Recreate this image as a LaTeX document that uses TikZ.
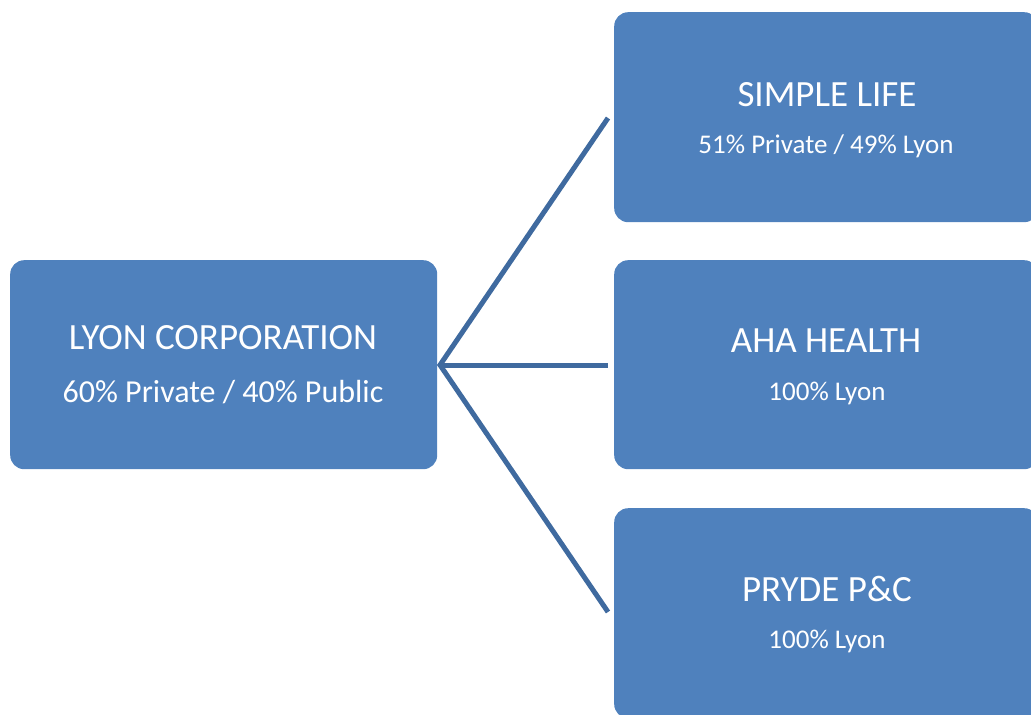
\documentclass[tikz,border=0pt]{standalone}
\usepackage{fontspec}
\setmainfont{Carlito}
\definecolor{boxblue}{HTML}{4F81BD}
\definecolor{lineblue}{HTML}{3F6A9F}
\begin{document}
\begin{tikzpicture}[x=1pt,y=-1pt,
  box/.style={fill=boxblue,draw=none,rounded corners=14pt,inner sep=0pt,anchor=north west},
  title/.style={text=white,font=\fontsize{37}{40}\selectfont,inner sep=0pt},
  sub/.style={text=white,font=\fontsize{32}{36}\selectfont,inner sep=0pt},
  rtitle/.style={text=white,font=\fontsize{37}{40}\selectfont,inner sep=0pt},
  rsub/.style={text=white,font=\fontsize{27}{30}\selectfont,inner sep=0pt},
  conn/.style={draw=lineblue,line width=5pt}]
\useasboundingbox (0,0) rectangle (1031,715);
\node[box,minimum width=427pt,minimum height=209pt] (lyon) at (10,260) {};
\node[box,minimum width=424pt,minimum height=210pt] (simple) at (614,12) {};
\node[box,minimum width=424pt,minimum height=209pt] (aha) at (614,260) {};
\node[box,minimum width=424pt,minimum height=210pt] (pryde) at (614,508) {};
\node[title] (lyonT) at (223,338) {LYON CORPORATION};
\node[sub] (lyonS) at (223,392) {60\% Private / 40\% Public};
\node[rtitle] (simpleT) at (827,95) {SIMPLE LIFE};
\node[rsub] (simpleS) at (826,146) {51\% Private / 49\% Lyon};
\node[rtitle] (ahaT) at (826,341) {AHA HEALTH};
\node[rsub] (ahaS) at (827,393) {100\% Lyon};
\node[rtitle] (prydeT) at (827,589) {PRYDE P\&C};
\node[rsub] (prydeS) at (827,641) {100\% Lyon};
\coordinate (hub) at (440,365);
\coordinate (e1) at (608,118);
\coordinate (e2) at (608,365);
\coordinate (e3) at (608,612);
\draw[conn] (e1) -- (hub) -- (e3);
\draw[conn] (hub) -- (e2);
\end{tikzpicture}
\end{document}
